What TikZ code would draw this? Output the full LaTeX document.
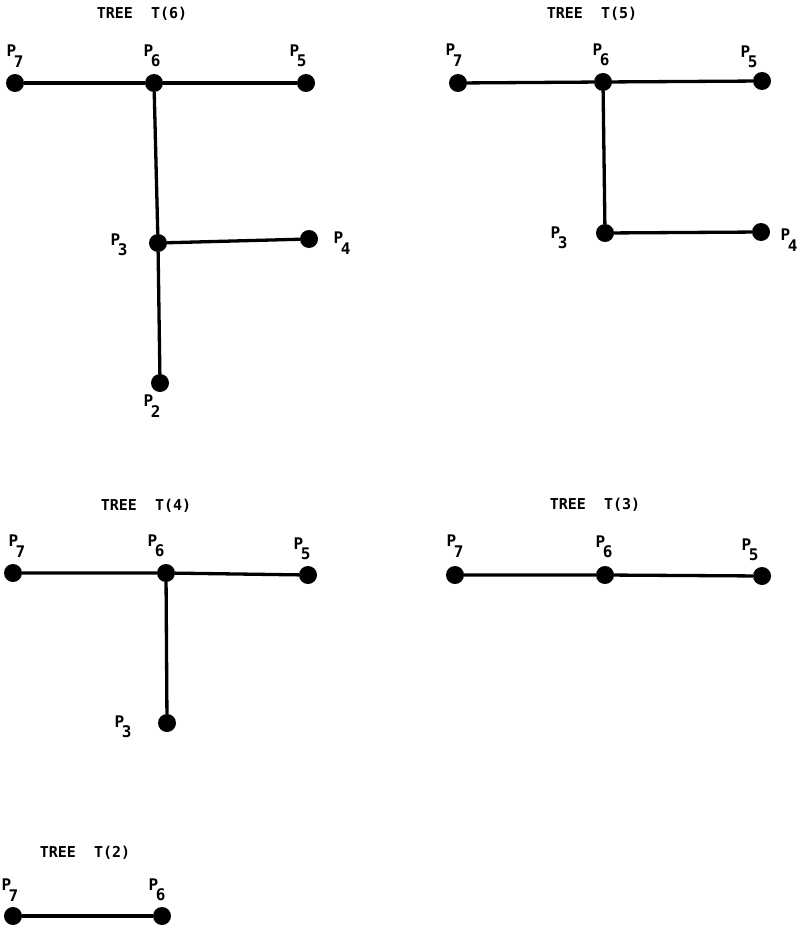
\documentclass[tikz,border=0pt]{standalone}
\usepackage{fontspec}
\setmainfont{DejaVu Sans Mono}
\newcommand{\plab}[1]{P\kern-2.5pt\raisebox{-10.5pt}{#1}}
\tikzset{
  vtx/.style={circle,fill=black,draw=none,minimum size=18pt,inner sep=0pt},
  edge/.style={line width=3.3pt},
  lbl/.style={font=\fontsize{16}{18}\selectfont\bfseries,inner sep=0pt},
  ttl/.style={font=\fontsize{15}{17}\selectfont\bfseries,inner sep=0pt}
}
\begin{document}
\begin{tikzpicture}[x=1pt,y=-1pt]
\useasboundingbox (0,0) rectangle (805,928);
% ---------- TREE T(6)
\node[ttl] (t6) at (142,14) {TREE~~T(6)};
\node[vtx] (a7) at (15,83) {};
\node[vtx] (a6) at (154,83) {};
\node[vtx] (a5) at (306,83) {};
\node[vtx] (a3) at (158,243) {};
\node[vtx] (a4) at (309,239) {};
\node[vtx] (a2) at (160,383) {};
\draw[edge] (a7) -- (a6) -- (a5);
\draw[edge] (a6) -- (a3) -- (a2);
\draw[edge] (a3) -- (a4);
\node[lbl] (la7) at (15,56) {\plab{7}};
\node[lbl] (la6) at (152,56) {\plab{6}};
\node[lbl] (la5) at (298,56) {\plab{5}};
\node[lbl] (la3) at (119,245) {\plab{3}};
\node[lbl] (la4) at (342,243) {\plab{4}};
\node[lbl] (la2) at (152,406) {\plab{2}};
% ---------- TREE T(5)
\node[ttl] (t5) at (592,14) {TREE~~T(5)};
\node[vtx] (b7) at (458,83) {};
\node[vtx] (b6) at (603,82) {};
\node[vtx] (b5) at (762,81) {};
\node[vtx] (b3) at (605,233) {};
\node[vtx] (b4) at (761,232) {};
\draw[edge] (b7) -- (b6) -- (b5);
\draw[edge] (b6) -- (b3) -- (b4);
\node[lbl] (lb7) at (454,55) {\plab{7}};
\node[lbl] (lb6) at (601,55) {\plab{6}};
\node[lbl] (lb5) at (749,57) {\plab{5}};
\node[lbl] (lb3) at (559,238) {\plab{3}};
\node[lbl] (lb4) at (789,240) {\plab{4}};
% ---------- TREE T(4)
\node[ttl] (t4) at (146,506) {TREE~~T(4)};
\node[vtx] (c7) at (13,573) {};
\node[vtx] (c6) at (166,573) {};
\node[vtx] (c5) at (308,575) {};
\node[vtx] (c3) at (167,723) {};
\draw[edge] (c7) -- (c6) -- (c5);
\draw[edge] (c6) -- (c3);
\node[lbl] (lc7) at (17,546) {\plab{7}};
\node[lbl] (lc6) at (156,546) {\plab{6}};
\node[lbl] (lc5) at (302,549) {\plab{5}};
\node[lbl] (lc3) at (123,727) {\plab{3}};
% ---------- TREE T(3)
\node[ttl] (t3) at (595,505) {TREE~~T(3)};
\node[vtx] (d7) at (455,575) {};
\node[vtx] (d6) at (605,575) {};
\node[vtx] (d5) at (762,576) {};
\draw[edge] (d7) -- (d6) -- (d5);
\node[lbl] (ld7) at (455,546) {\plab{7}};
\node[lbl] (ld6) at (604,547) {\plab{6}};
\node[lbl] (ld5) at (750,550) {\plab{5}};
% ---------- TREE T(2)
\node[ttl] (t2) at (85,853) {TREE~~T(2)};
\node[vtx] (e7) at (13,916) {};
\node[vtx] (e6) at (162,916) {};
\draw[edge] (e7) -- (e6);
\node[lbl] (le7) at (10,890) {\plab{7}};
\node[lbl] (le6) at (157,890) {\plab{6}};
\end{tikzpicture}
\end{document}
